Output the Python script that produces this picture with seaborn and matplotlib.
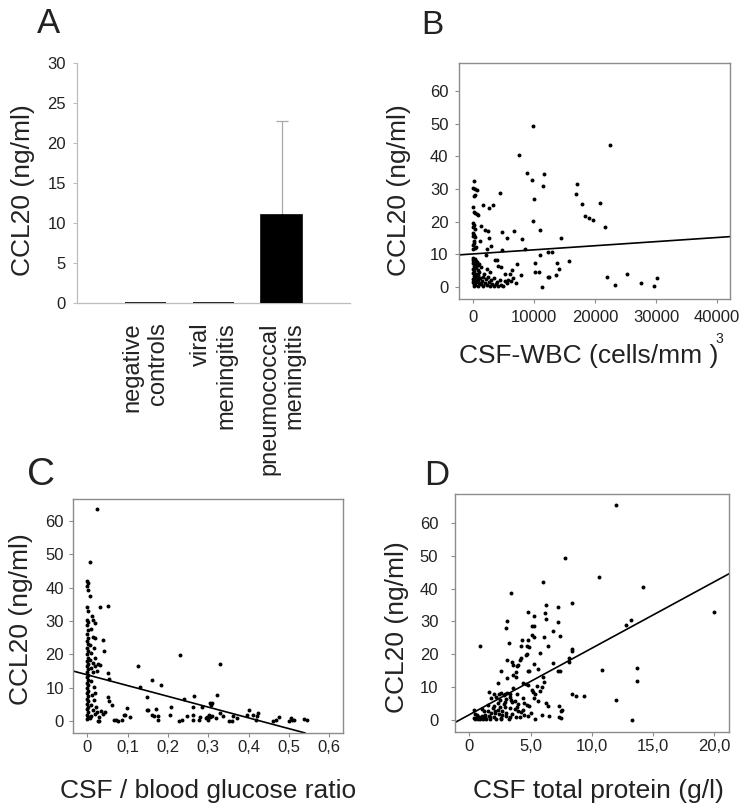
import matplotlib
matplotlib.use("Agg")
import matplotlib.pyplot as plt
import seaborn as sns
import numpy as np

# ---------------- data ----------------
# Panel A: group means and upper SD
a_groups = ["negative\ncontrols", "viral\nmeningitis", "pneumococcal\nmeningitis"]
a_mean = [0.0, 0.0, 11.0]
a_sd = [0.0, 0.0, 11.7]
a_yticks = [0, 5, 10, 15, 20, 25, 30]

# Panel B: CSF-WBC (cells/mm3) vs CCL20 (ng/ml)
b_wbc = [150, 100, 400, 700, 350, 250, 50, 200, 400, 650,
         900, 100, 150, 50, 300, 100, 200, 50, 400, 150,
         250, 100, 500, 50, 300, 100, 300, 50, 500, 200,
         700, 100, 400, 900, 150, 600, 300, 50, 800, 250,
         1100, 100, 500, 300, 900, 150, 650, 1200, 400, 100,
         800, 300, 1500, 50, 600, 1000, 250, 1300, 450, 800,
         150, 1700, 2000, 2300, 2600, 2900, 3200, 3500, 3800, 4200,
         4600, 5000, 2100, 2500, 1900, 1400, 1100, 2400, 3000, 3400,
         4000, 4400, 5300, 5800, 6300, 6600, 7000, 5600, 6100, 6500,
         3700, 3900, 4100, 4700, 5200, 2800, 1700, 1750, 2700, 3300,
         1350, 2000, 2550, 2700, 1250, 3050, 2350, 2100, 4500, 4800,
         5600, 6800, 4850, 8050, 8500, 7200, 7850, 7650, 9800, 8850,
         9750, 11600, 11550, 9950, 9800, 11000, 14400, 12250, 13050, 10950,
         10150, 10200, 10850, 11400, 12250, 12400, 13700, 14100, 13850, 15750,
         17000, 16950, 17850, 18300, 19100, 19650, 20900, 21600, 22400, 22050,
         23350, 25250, 27600, 29700, 30150]
b_ccl20 = [32.5, 30.3, 30.0, 29.8, 28.3, 27.9, 24.6, 23.1, 22.6, 22.2,
           22.0, 19.6, 18.9, 18.3, 17.6, 16.5, 16.0, 15.5, 15.3, 14.2,
           13.5, 12.8, 12.2, 11.5, 11.8, 8.9, 8.6, 8.2, 8.0, 7.7,
           7.5, 7.2, 6.9, 6.7, 6.4, 6.1, 5.8, 5.5, 5.2, 4.9,
           4.7, 4.4, 4.1, 3.8, 3.5, 3.2, 3.0, 2.8, 2.6, 2.3,
           2.1, 1.9, 1.8, 1.6, 1.4, 1.2, 1.0, 0.8, 0.6, 0.4,
           0.3, 0.2, 1.1, 0.5, 1.5, 0.3, 1.0, 0.4, 0.8, 0.2,
           0.6, 0.3, 2.4, 3.1, 4.0, 6.0, 7.0, 5.5, 2.0, 2.6,
           1.5, 2.0, 1.8, 2.2, 1.8, 2.6, 1.3, 1.2, 3.9, 5.1,
           8.4, 8.4, 6.5, 6.0, 4.0, 4.5, 2.9, 25.0, 24.1, 25.1,
           18.7, 17.5, 17.0, 14.9, 14.0, 12.6, 11.7, 9.8, 28.9, 16.9,
           15.0, 17.2, 11.2, 14.6, 11.6, 7.1, 3.6, 40.4, 49.3, 35.0,
           32.9, 34.5, 30.8, 27.0, 20.3, 17.4, 14.9, 10.7, 10.7, 9.8,
           7.4, 4.6, 4.6, 0.1, 3.1, 3.0, 3.7, 5.4, 7.4, 7.9,
           31.4, 28.6, 25.4, 21.7, 21.1, 20.5, 25.7, 18.5, 43.4, 3.0,
           0.7, 4.1, 1.2, 0.2, 2.6]
b_fit = [10.1, 1.26e-4]          # intercept, slope
b_xticks = [0, 10000, 20000, 30000, 40000]
b_xticklabels = ["0", "10000", "20000", "30000", "40000"]

# Panel C: CSF / blood glucose ratio vs CCL20
c_ratio = [0.000, 0.002, 0.000, 0.002, 0.000, 0.002, 0.000, 0.002, 0.000, 0.002,
           0.000, 0.002, 0.000, 0.002, 0.000, 0.002, 0.000, 0.002, 0.000, 0.002,
           0.000, 0.002, 0.000, 0.002, 0.000, 0.002, 0.000, 0.002, 0.000, 0.002,
           0.000, 0.002, 0.000, 0.002, 0.000, 0.002, 0.000, 0.002, 0.000, 0.002,
           0.000,
           0.007, 0.025, 0.007, 0.012, 0.015, 0.018, 0.010, 0.014, 0.020, 0.006,
           0.016, 0.010, 0.018, 0.006, 0.013, 0.020, 0.008, 0.025, 0.015, 0.010,
           0.016, 0.020, 0.012, 0.017, 0.008, 0.022, 0.014, 0.025, 0.019, 0.010,
           0.028, 0.006,
           0.031, 0.052, 0.039, 0.042, 0.031, 0.026, 0.052, 0.055, 0.052, 0.054,
           0.060, 0.045, 0.040, 0.035, 0.030, 0.027, 0.065, 0.070, 0.075, 0.085,
           0.090, 0.093, 0.098, 0.107, 0.126, 0.131, 0.147, 0.147, 0.151, 0.160,
           0.165, 0.160, 0.183, 0.171, 0.175, 0.175, 0.206, 0.208, 0.228, 0.236,
           0.230, 0.239, 0.247, 0.262, 0.262, 0.264, 0.262, 0.277, 0.279, 0.285,
           0.295, 0.297, 0.300, 0.302, 0.303, 0.305, 0.306, 0.309, 0.308, 0.322,
           0.320, 0.330, 0.328, 0.336, 0.352, 0.360, 0.362, 0.370, 0.395, 0.400,
           0.410, 0.418, 0.420, 0.422, 0.460, 0.468, 0.476, 0.500, 0.505, 0.508,
           0.513, 0.538, 0.544]
c_ccl20 = [42.1, 41.4, 40.6, 39.4, 34.2, 32.9, 30.4, 29.6, 28.8, 27.2,
           26.0, 25.0, 24.0, 23.0, 22.0, 21.0, 20.0, 19.0, 18.0, 17.2,
           16.4, 15.6, 14.8, 14.0, 13.2, 12.4, 11.6, 10.8, 10.0, 9.2,
           8.4, 7.6, 6.8, 6.0, 5.2, 4.4, 3.6, 2.8, 2.0, 1.2,
           0.6,
           47.8, 63.6, 37.4, 31.5, 30.3, 29.3, 27.5, 25.3, 24.8, 22.7,
           22.0, 20.4, 18.9, 18.2, 17.4, 16.6, 15.8, 15.0, 14.8, 12.0,
           10.2, 8.5, 7.8, 6.4, 5.0, 4.3, 3.5, 2.8, 2.3, 1.6,
           1.2, 0.9,
           34.2, 34.6, 24.2, 21.0, 16.7, 17.0, 14.5, 12.8, 7.2, 6.1,
           5.0, 2.9, 2.2, 3.2, 0.2, 0.0, 0.3, 0.5, 0.2, 0.3,
           2.0, 2.0, 4.0, 1.2, 16.4, 10.4, 7.2, 3.5, 3.4, 2.0,
           1.6, 12.3, 10.9, 3.8, 1.7, 0.4, 2.0, 4.2, 0.0, 0.4,
           19.8, 6.6, 1.6, 2.0, 4.2, 7.5, 0.4, 0.4, 1.4, 4.4,
           0.9, 1.4, 0.4, 2.0, 5.6, 1.4, 4.8, 5.5, 1.6, 8.0,
           0.9, 17.1, 2.6, 1.6, 0.2, 0.2, 1.6, 0.9, 2.0, 3.5,
           2.0, 0.4, 1.5, 2.6, 0.2, 0.4, 1.2, 0.2, 0.9, 0.4,
           0.4, 0.6, 0.4]
c_fit = [13.9, -32.2]
c_xticks = [0, 0.1, 0.2, 0.3, 0.4, 0.5, 0.6]
c_xticklabels = ["0", "0,1", "0,2", "0,3", "0,4", "0,5", "0,6"]

# Panel D: CSF total protein (g/l) vs CCL20
d_protein = [12.0, 7.8, 10.6, 6.0, 14.2, 3.4, 20.0, 8.4, 6.3, 7.2,
             5.3, 4.8, 6.2, 6.3, 7.2, 5.1, 5.3, 3.1, 3.0, 6.8,
             6.1, 7.4, 5.1, 5.3, 4.3, 3.2, 4.8, 4.7, 4.9, 6.4,
             0.9, 4.2, 5.8, 8.4, 8.4, 4.7, 4.6, 4.2, 3.1, 3.5,
             4.1, 3.6, 3.9, 4.0, 6.8, 5.3, 8.1, 8.1, 5.6, 4.9,
             4.8, 7.2, 7.4, 2.6, 3.8, 3.6, 3.8, 6.0, 6.1, 3.1,
             4.4, 4.8, 5.5, 5.9, 2.3, 4.6, 10.8, 13.7, 13.7, 12.8,
             13.2, 8.4, 8.7, 9.4, 12.0, 13.3, 5.2, 5.4, 5.1, 5.8,
             5.3, 5.6, 6.3, 6.4, 6.5, 7.3, 7.5, 7.3, 7.5, 7.6,
             5.9, 5.4, 5.0, 4.8, 4.7, 4.9, 4.4, 4.2, 4.0, 3.7,
             3.4, 3.5, 3.1, 2.9, 2.8, 3.3, 2.6, 2.4, 2.0, 1.6,
             2.2, 2.5, 1.8, 1.5, 2.0, 2.5, 2.9, 3.3, 3.7, 4.0,
             2.3, 2.7, 3.0, 1.0, 1.2, 1.5, 1.8, 2.1, 2.4, 2.7,
             3.0, 3.3, 3.5, 3.8, 2.0, 1.6, 1.3, 1.0, 0.8, 0.6,
             0.5, 0.7, 0.9, 1.1, 1.4, 1.7, 2.2, 2.6, 3.2, 0.4,
             0.6, 0.4, 1.3, 2.8, 3.9, 4.4, 4.5, 3.6, 3.3, 2.9,
             1.9, 2.3, 2.6, 4.1, 4.5, 3.9, 3.0, 2.1, 1.7, 0.5]
d_ccl20 = [65.4, 49.3, 43.4, 42.1, 40.5, 38.6, 32.9, 35.5, 35.1, 34.5,
           31.5, 33.0, 32.6, 30.8, 29.8, 28.6, 28.6, 30.0, 28.0, 27.1,
           25.2, 25.4, 25.7, 25.3, 24.4, 23.4, 24.2, 22.4, 22.2, 22.4,
           22.6, 22.6, 20.4, 21.5, 21.0, 20.2, 19.7, 18.8, 18.1, 17.6,
           18.2, 16.6, 16.3, 16.8, 17.2, 17.0, 18.8, 17.6, 15.6, 15.0,
           14.8, 14.9, 14.9, 15.0, 14.5, 13.7, 13.0, 13.2, 11.6, 12.6,
           11.2, 10.5, 10.2, 10.0, 11.3, 11.0, 15.2, 15.7, 11.8, 29.0,
           30.4, 8.0, 7.4, 7.4, 5.9, 0.1, 8.6, 7.8, 9.0, 8.9,
           6.7, 5.6, 5.2, 4.3, 1.2, 4.2, 2.8, 0.9, 0.5, 3.0,
           1.6, 0.2, 2.0, 1.2, 4.5, 4.2, 3.0, 2.5, 4.7, 5.8,
           6.2, 5.5, 8.2, 8.0, 7.6, 7.8, 8.3, 8.0, 7.9, 8.4,
           6.9, 6.0, 6.8, 4.5, 4.3, 4.0, 3.8, 3.5, 3.2, 2.8,
           3.0, 2.6, 2.2, 3.3, 2.6, 2.8, 2.0, 2.1, 1.9, 1.5,
           1.2, 0.8, 1.8, 1.0, 1.0, 1.3, 0.9, 1.2, 0.8, 1.0,
           0.4, 0.3, 0.2, 0.3, 0.2, 0.3, 0.4, 0.2, 0.3, 2.9,
           1.6, 0.6, 1.6, 4.8, 8.0, 6.8, 5.1, 9.6, 7.0, 5.5,
           3.6, 5.0, 0.7, 0.9, 1.6, 3.9, 6.4, 2.8, 1.0, 1.9]
d_fit = [1.57, 2.025]
d_xticks = [0, 5, 10, 15, 20]
d_xticklabels = ["0", "5,0", "10,0", "15,0", "20,0"]

ccl_yticks = [0, 10, 20, 30, 40, 50, 60]

# ---------------- style ----------------
sns.set_theme(style="white")
plt.rcParams['font.family'] = ['Liberation Sans', 'DejaVu Sans']

W, H = 745, 810
fig = plt.figure(figsize=(W / 100, H / 100), dpi=100)


def rect(l, t, r, b):
    return [l / W, 1 - b / H, (r - l) / W, (b - t) / H]


def fx(x):
    return x / W


def fy(y):
    return 1 - y / H


TXT = '#222222'
FRAME = '#8c8c8c'
YLAB = 'CCL20 (ng/ml)'

# ---------------- Panel A ----------------
axA = fig.add_axes(rect(77, 63, 350, 303))
idx = np.arange(len(a_groups))
sd = np.array(a_sd)
m = sd > 0
axA.errorbar(idx[m], np.array(a_mean)[m], yerr=[np.zeros(m.sum()), sd[m]],
             fmt='none', ecolor='#a8a8a8', elinewidth=0.9, capsize=4,
             capthick=0.9, zorder=0.5)
sns.barplot(x=a_groups, y=a_mean, color='black', saturation=1, width=0.6,
            edgecolor='black', linewidth=1.2, errorbar=None, ax=axA, zorder=2)
axA.set_xlim(-1, 3)
axA.set_ylim(0, 30)
axA.set_yticks(a_yticks)
axA.set_xticks(idx)
axA.set_xticklabels(a_groups, rotation=90, ha='center', va='top',
                    multialignment='right', fontsize=17, color=TXT)
for s in ['top', 'right']:
    axA.spines[s].set_visible(False)
for s in ['left', 'bottom']:
    axA.spines[s].set_color('#bdbdbd')
    axA.spines[s].set_linewidth(0.9)
    axA.spines[s].set_zorder(1)
axA.tick_params(axis='y', left=True, length=3, width=0.8, color='#bdbdbd',
                labelsize=12, labelcolor=TXT, pad=5)
axA.tick_params(axis='x', bottom=False, length=0, pad=14)
axA.set_xlabel('')
axA.set_ylabel('')


def scatter_panel(ax, xs, ys, fit, xlim, ylim, xticks, xticklabels, xpad, ypad):
    sns.scatterplot(x=xs, y=ys, s=8, color='black', linewidth=0, ax=ax)
    ax.axline((0, fit[0]), slope=fit[1], color='black', lw=1.2)
    ax.set_xlim(*xlim)
    ax.set_ylim(*ylim)
    ax.set_xticks(xticks)
    ax.set_xticklabels(xticklabels)
    ax.set_yticks(ccl_yticks)
    for s in ax.spines.values():
        s.set_visible(True)
        s.set_color(FRAME)
        s.set_linewidth(1.0)
    ax.tick_params(axis='both', left=True, bottom=True, direction='out',
                   length=3, width=0.8, color=FRAME, labelsize=12, labelcolor=TXT)
    ax.tick_params(axis='x', pad=xpad)
    ax.tick_params(axis='y', pad=ypad)
    ax.set_xlabel('')
    ax.set_ylabel('')


# ---------------- Panel B ----------------
axB = fig.add_axes(rect(459, 63, 730, 299))
scatter_panel(axB, b_wbc, b_ccl20, b_fit, (-2250, 42100), (-3.7, 68.6),
              b_xticks, b_xticklabels, 5, 4.5)

# ---------------- Panel C ----------------
axC = fig.add_axes(rect(73, 499, 343, 733))
scatter_panel(axC, c_ratio, c_ccl20, c_fit, (-0.0355, 0.634), (-3.5, 66.5),
              c_xticks, c_xticklabels, 2, 3.5)

# ---------------- Panel D ----------------
axD = fig.add_axes(rect(455, 494, 729, 732))
scatter_panel(axD, d_protein, d_ccl20, d_fit, (-1.17, 21.2), (-3.7, 68.8),
              d_xticks, d_xticklabels, 2, 9)

# ---------------- texts ----------------
fig.text(fx(37), fy(33), 'A', fontsize=25, ha='left', va='baseline', color=TXT)
fig.text(fx(421), fy(34), 'B', fontsize=24, ha='left', va='baseline', color=TXT)
fig.text(fx(27), fy(485), 'C', fontsize=28, ha='left', va='baseline', color=TXT)
fig.text(fx(424), fy(485), 'D', fontsize=25, ha='left', va='baseline', color=TXT)

fig.text(fx(23), fy(190), YLAB, rotation=90, ha='center', va='center', fontsize=19, color=TXT)
fig.text(fx(399), fy(190), YLAB, rotation=90, ha='center', va='center', fontsize=19, color=TXT)
fig.text(fx(21), fy(619), YLAB, rotation=90, ha='center', va='center', fontsize=19, color=TXT)
fig.text(fx(397), fy(627), YLAB, rotation=90, ha='center', va='center', fontsize=19, color=TXT)

fig.text(fx(459), fy(363), 'CSF-WBC (cells/mm )', ha='left', va='baseline', fontsize=19, color=TXT)
fig.text(fx(719), fy(343), '3', ha='center', va='baseline', fontsize=10, color=TXT)
fig.text(fx(208), fy(798), 'CSF / blood glucose ratio', ha='center', va='baseline', fontsize=19, color=TXT)
fig.text(fx(598), fy(798), 'CSF total protein (g/l)', ha='center', va='baseline', fontsize=19, color=TXT)

fig.savefig('out.png', dpi=100)
